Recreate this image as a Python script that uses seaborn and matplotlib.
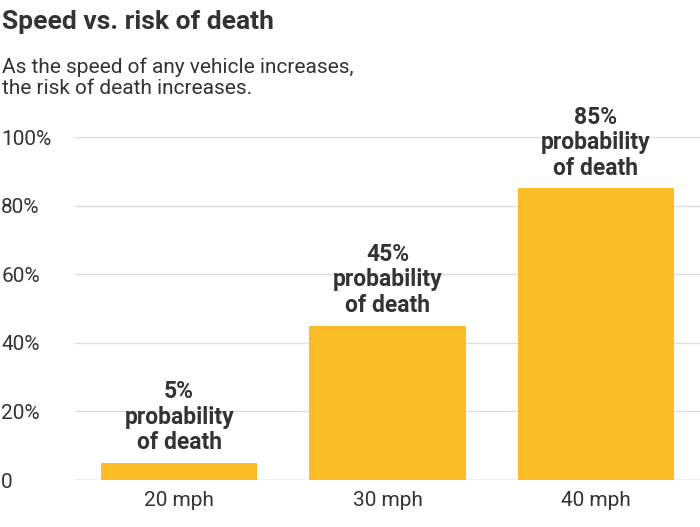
import matplotlib
matplotlib.use("Agg")
import matplotlib.pyplot as plt
import seaborn as sns
import pandas as pd

speeds = ["20 mph", "30 mph", "40 mph"]
risk = [5, 45, 85]
labels = ["5%\nprobability\nof death", "45%\nprobability\nof death", "85%\nprobability\nof death"]
yticks = [0, 20, 40, 60, 80, 100]
yticklabels = ["0", "20%", "40%", "60%", "80%", "100%"]

plt.rcParams["font.family"] = "Roboto"
TEXT = "#333333"
BAR = "#FBBD27"

df = pd.DataFrame({"speed": speeds, "risk": risk})

fig = plt.figure(figsize=(7, 5.27), dpi=100)
ax = fig.add_axes([0.107, 0.089, 0.893, 0.651])
sns.barplot(data=df, x="speed", y="risk", color=BAR, width=0.75,
            saturation=1, ax=ax, zorder=3)
ax.set_xlim(-0.5, 2.5)
ax.set_ylim(0, 100)
ax.set_yticks(yticks)
ax.set_yticklabels(yticklabels)
ax.grid(axis="y", color="#dddddd", lw=1, zorder=0)
ax.set_axisbelow(True)
for s in ax.spines.values():
    s.set_visible(False)
ax.axhline(0, color="#cccccc", lw=1, zorder=1)
ax.tick_params(axis="y", length=0, pad=53, labelsize=15, labelcolor=TEXT)
for t in ax.get_yticklabels():
    t.set_horizontalalignment("left")
ax.tick_params(axis="x", length=0, pad=8, labelsize=15, labelcolor=TEXT)
ax.set_xlabel("")
ax.set_ylabel("")

for i, (v, lab) in enumerate(zip(risk, labels)):
    ax.text(i, v + 2.5, lab, ha="center", va="bottom", fontsize=16.5,
            fontweight="bold", color=TEXT, linespacing=1.15)

fig.text(0.003, 0.958, "Speed vs. risk of death", fontsize=19, fontweight="bold",
         color=TEXT, va="center")
fig.text(0.003, 0.853, "As the speed of any vehicle increases,\nthe risk of death increases.",
         fontsize=15, color=TEXT, va="center", linespacing=1.15)

fig.savefig("out.png", dpi=100)
